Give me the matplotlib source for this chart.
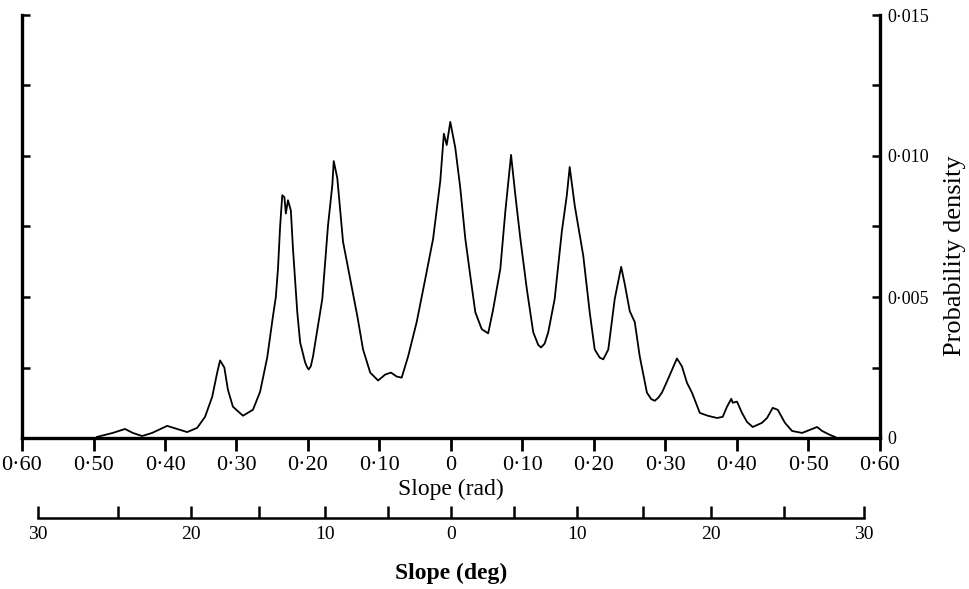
import numpy as np
import matplotlib
matplotlib.use("Agg")
import matplotlib.pyplot as plt
from matplotlib.ticker import FixedLocator, FuncFormatter

# Slope (rad, signed: left negative) and probability density
slope_rad = [
    -0.495, -0.473, -0.456, -0.445, -0.432, -0.418, -0.397, -0.383, -0.369, -0.355,
    -0.344, -0.334, -0.327, -0.323, -0.317, -0.312, -0.305, -0.291, -0.277, -0.267,
    -0.257, -0.249, -0.245, -0.242, -0.239, -0.236, -0.233, -0.231, -0.228, -0.224,
    -0.221, -0.215, -0.211, -0.204, -0.201, -0.199, -0.196, -0.193, -0.180, -0.172,
    -0.166, -0.164, -0.159, -0.151, -0.141, -0.131, -0.123, -0.113, -0.102, -0.092,
    -0.084, -0.076, -0.069, -0.060, -0.048, -0.036, -0.025, -0.015, -0.010, -0.006,
    -0.001, 0.006, 0.013, 0.020, 0.027, 0.034, 0.043, 0.052, 0.059, 0.069,
    0.076, 0.084, 0.090, 0.097, 0.106, 0.115, 0.122, 0.126, 0.131, 0.136,
    0.145, 0.155, 0.162, 0.166, 0.173, 0.185, 0.194, 0.201, 0.208, 0.213,
    0.220, 0.229, 0.238, 0.243, 0.250, 0.257, 0.264, 0.274, 0.280, 0.285,
    0.290, 0.295, 0.302, 0.316, 0.323, 0.330, 0.337, 0.348, 0.359, 0.372,
    0.380, 0.386, 0.392, 0.394, 0.400, 0.407, 0.414, 0.422, 0.435, 0.442,
    0.450, 0.457, 0.467, 0.477, 0.491, 0.502, 0.512, 0.519, 0.530, 0.537,
]
density = [
    0.00004, 0.00018, 0.00032, 0.00018, 0.00007, 0.00018, 0.00043, 0.00032, 0.00021, 0.00036,
    0.00075, 0.00146, 0.00232, 0.00275, 0.00250, 0.00171, 0.00111, 0.00079, 0.00100, 0.00164,
    0.00286, 0.00432, 0.00500, 0.00600, 0.00750, 0.00861, 0.00854, 0.00796, 0.00843, 0.00807,
    0.00671, 0.00446, 0.00339, 0.00268, 0.00250, 0.00243, 0.00255, 0.00289, 0.00493, 0.00754,
    0.00896, 0.00982, 0.00921, 0.00696, 0.00564, 0.00432, 0.00314, 0.00232, 0.00204, 0.00225,
    0.00232, 0.00218, 0.00214, 0.00289, 0.00411, 0.00564, 0.00707, 0.00911, 0.01079, 0.01039,
    0.01121, 0.01029, 0.00886, 0.00707, 0.00575, 0.00446, 0.00386, 0.00371, 0.00457, 0.00600,
    0.00804, 0.01004, 0.00861, 0.00707, 0.00529, 0.00375, 0.00330, 0.00321, 0.00335, 0.00375,
    0.00493, 0.00732, 0.00861, 0.00961, 0.00825, 0.00646, 0.00446, 0.00314, 0.00285, 0.00279,
    0.00314, 0.00493, 0.00607, 0.00546, 0.00450, 0.00411, 0.00289, 0.00161, 0.00138, 0.00132,
    0.00143, 0.00161, 0.00200, 0.00282, 0.00254, 0.00196, 0.00161, 0.00089, 0.00079, 0.00071,
    0.00075, 0.00111, 0.00139, 0.00125, 0.00129, 0.00089, 0.00057, 0.00039, 0.00054, 0.00071,
    0.00107, 0.00100, 0.00054, 0.00025, 0.00018, 0.00029, 0.00039, 0.00025, 0.00011, 0.00004,
]

rad_ticks = [-0.6, -0.5, -0.4, -0.3, -0.2, -0.1, 0.0, 0.1, 0.2, 0.3, 0.4, 0.5, 0.6]
deg_major = [-30, -20, -10, 0, 10, 20, 30]
deg_minor = [-25, -15, -5, 5, 15, 25]
y_major = [0.0, 0.005, 0.010, 0.015]
y_minor = [0.0025, 0.0075, 0.0125]

plt.rcParams['font.family'] = ['Liberation Serif', 'DejaVu Serif']

fig = plt.figure(figsize=(9.70, 5.89), dpi=100)
ax = fig.add_axes([22/970, 1-438/589, (880-22)/970, (438-15)/589])

ax.plot(slope_rad, density, color='black', lw=1.3, solid_joinstyle='round')
ax.set_xlim(-0.6, 0.6)
ax.set_ylim(0, 0.015)

for s in ['left', 'right', 'bottom']:
    ax.spines[s].set_linewidth(2.4)
ax.spines['top'].set_visible(False)

# x axis (rad)
ax.xaxis.set_major_locator(FixedLocator(rad_ticks))
def rad_fmt(v, pos):
    if abs(v) < 1e-9:
        return "0"
    return f"{abs(v):.2f}".replace('.', '·')
ax.xaxis.set_major_formatter(FuncFormatter(rad_fmt))
ax.tick_params(axis='x', direction='out', length=9, width=2.0, labelsize=16, pad=4)
ax.set_xlabel("Slope (rad)", fontsize=17, labelpad=3)

# y axis on right with labels, plain ticks on left
ax.yaxis.set_major_locator(FixedLocator(y_major))
ax.yaxis.set_minor_locator(FixedLocator(y_minor))
def y_fmt(v, pos):
    if abs(v) < 1e-12:
        return "0"
    return f"{v:.3f}".replace('.', '·')
ax.yaxis.set_major_formatter(FuncFormatter(y_fmt))
ax.tick_params(axis='y', which='both', direction='in', length=6, width=1.8,
               left=True, right=True, labelleft=False, labelright=True,
               labelsize=13, pad=5)
ax.yaxis.set_label_position('right')
ax.set_ylabel("Probability density", fontsize=19, ha='center', va='center',
              rotation_mode='anchor')
ax.yaxis.set_label_coords(1.087, 0.43)

# degree axis (arctan of slope)
def fwd(x):
    return np.degrees(np.arctan(x))
def inv(d):
    return np.tan(np.radians(d))
sec = ax.secondary_xaxis((438-518)/423, functions=(fwd, inv))
sec.xaxis.set_major_locator(FixedLocator(deg_major))
sec.xaxis.set_minor_locator(FixedLocator(deg_minor))
sec.xaxis.set_major_formatter(FuncFormatter(lambda v, p: f"{abs(int(round(v)))}"))
sec.tick_params(axis='x', which='both', direction='in', length=9, width=1.8,
                labelsize=14, pad=6)
sec.spines['bottom'].set_linewidth(1.8)
sec.spines['bottom'].set_bounds(-30, 30)
sec.set_xlabel("Slope (deg)", fontsize=17, fontweight='bold', labelpad=14)

fig.savefig("out.png", dpi=100)
